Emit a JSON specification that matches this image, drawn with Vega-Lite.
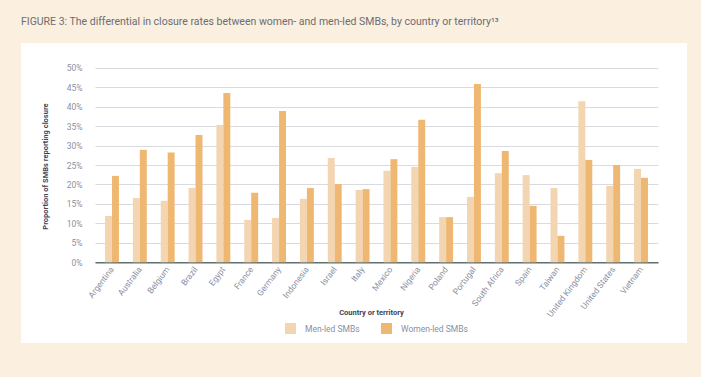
{
  "$schema": "https://vega.github.io/schema/vega-lite/v6.json",
  "width": 666,
  "height": 300,
  "autosize": {"type": "none"},
  "padding": {"left": 21, "top": 43, "right": 14, "bottom": 34},
  "background": "#FBEFE0",
  "config": {
    "view": {"fill": "white", "stroke": null},
    "font": "Roboto"
  },
  "title": {
    "text": "FIGURE 3: The differential in closure rates between women- and men-led SMBs, by country or territory\u00b9\u00b3",
    "anchor": "start",
    "frame": "group",
    "fontSize": 10.5,
    "fontWeight": "normal",
    "color": "#6B6D71",
    "offset": 16
  },
  "data": {
    "values": [
      {"country": "Argentina", "group": "Men-led SMBs", "value": 0.119},
      {"country": "Argentina", "group": "Women-led SMBs", "value": 0.222},
      {"country": "Australia", "group": "Men-led SMBs", "value": 0.165},
      {"country": "Australia", "group": "Women-led SMBs", "value": 0.289},
      {"country": "Belgium", "group": "Men-led SMBs", "value": 0.158},
      {"country": "Belgium", "group": "Women-led SMBs", "value": 0.282},
      {"country": "Brazil", "group": "Men-led SMBs", "value": 0.191},
      {"country": "Brazil", "group": "Women-led SMBs", "value": 0.327},
      {"country": "Egypt", "group": "Men-led SMBs", "value": 0.353},
      {"country": "Egypt", "group": "Women-led SMBs", "value": 0.435},
      {"country": "France", "group": "Men-led SMBs", "value": 0.109},
      {"country": "France", "group": "Women-led SMBs", "value": 0.179},
      {"country": "Germany", "group": "Men-led SMBs", "value": 0.114},
      {"country": "Germany", "group": "Women-led SMBs", "value": 0.389},
      {"country": "Indonesia", "group": "Men-led SMBs", "value": 0.163},
      {"country": "Indonesia", "group": "Women-led SMBs", "value": 0.191},
      {"country": "Israel", "group": "Men-led SMBs", "value": 0.268},
      {"country": "Israel", "group": "Women-led SMBs", "value": 0.201},
      {"country": "Italy", "group": "Men-led SMBs", "value": 0.186},
      {"country": "Italy", "group": "Women-led SMBs", "value": 0.188},
      {"country": "Mexico", "group": "Men-led SMBs", "value": 0.235},
      {"country": "Mexico", "group": "Women-led SMBs", "value": 0.265},
      {"country": "Nigeria", "group": "Men-led SMBs", "value": 0.245},
      {"country": "Nigeria", "group": "Women-led SMBs", "value": 0.366},
      {"country": "Poland", "group": "Men-led SMBs", "value": 0.116},
      {"country": "Poland", "group": "Women-led SMBs", "value": 0.116},
      {"country": "Portugal", "group": "Men-led SMBs", "value": 0.168},
      {"country": "Portugal", "group": "Women-led SMBs", "value": 0.458},
      {"country": "South Africa", "group": "Men-led SMBs", "value": 0.229},
      {"country": "South Africa", "group": "Women-led SMBs", "value": 0.286},
      {"country": "Spain", "group": "Men-led SMBs", "value": 0.224},
      {"country": "Spain", "group": "Women-led SMBs", "value": 0.145},
      {"country": "Taiwan", "group": "Men-led SMBs", "value": 0.191},
      {"country": "Taiwan", "group": "Women-led SMBs", "value": 0.068},
      {"country": "United Kingdom", "group": "Men-led SMBs", "value": 0.414},
      {"country": "United Kingdom", "group": "Women-led SMBs", "value": 0.263},
      {"country": "United States", "group": "Men-led SMBs", "value": 0.196},
      {"country": "United States", "group": "Women-led SMBs", "value": 0.25},
      {"country": "Vietnam", "group": "Men-led SMBs", "value": 0.24},
      {"country": "Vietnam", "group": "Women-led SMBs", "value": 0.217}
    ]
  },
  "mark": {"type": "bar"},
  "encoding": {
    "x": {
      "field": "country",
      "type": "nominal",
      "sort": null,
      "scale": {"range": [74, 637], "paddingInner": 0.5, "paddingOuter": 0.36},
      "axis": {
        "title": "Country or territory",
        "offset": -80.7,
        "grid": false,
        "ticks": false,
        "domain": true,
        "domainColor": "#5E706F",
        "domainWidth": 1.5,
        "labelAngle": -53,
        "labelAlign": "right",
        "labelBaseline": "middle",
        "labelPadding": 5,
        "labelFontSize": 8.5,
        "labelColor": "#8A8FA3",
        "titleFontSize": 7.5,
        "titleFontWeight": "bold",
        "titleColor": "#3F4456",
        "titleX": 350,
        "titleY": 49.7,
        "titleBaseline": "middle",
        "titleAlign": "center"
      }
    },
    "xOffset": {
      "field": "group",
      "type": "nominal",
      "sort": ["Men-led SMBs", "Women-led SMBs"],
      "scale": {"paddingInner": 0, "paddingOuter": 0}
    },
    "y": {
      "field": "value",
      "type": "quantitative",
      "scale": {"domain": [0, 0.5], "range": [219.3, 24.7], "nice": false, "zero": true},
      "axis": {
        "title": "Proportion of SMBs reporting closure",
        "values": [0, 0.05, 0.1, 0.15, 0.2, 0.25, 0.3, 0.35, 0.4, 0.45, 0.5],
        "format": ".0%",
        "offset": -74,
        "domain": false,
        "ticks": false,
        "grid": true,
        "gridColor": "#D9DBE1",
        "gridWidth": 1.2,
        "labelPadding": 13,
        "labelFontSize": 8.5,
        "labelColor": "#8A8FA3",
        "titleFontSize": 7.5,
        "titleFontWeight": "bold",
        "titleColor": "#3F4456",
        "titleX": -50,
        "titleY": 123,
        "titleAngle": -90,
        "titleAlign": "center",
        "titleBaseline": "middle"
      }
    },
    "color": {
      "field": "group",
      "type": "nominal",
      "scale": {"domain": ["Men-led SMBs", "Women-led SMBs"], "range": ["#F3D5B1", "#EEB872"]},
      "legend": {
        "title": null,
        "orient": "none",
        "direction": "horizontal",
        "legendX": 264,
        "legendY": 280,
        "padding": 0,
        "symbolType": "square",
        "symbolSize": 121,
        "symbolStrokeWidth": 0,
        "labelFontSize": 8.5,
        "labelColor": "#8A8FA3",
        "labelOffset": 9,
        "columnPadding": 21
      }
    }
  }
}
